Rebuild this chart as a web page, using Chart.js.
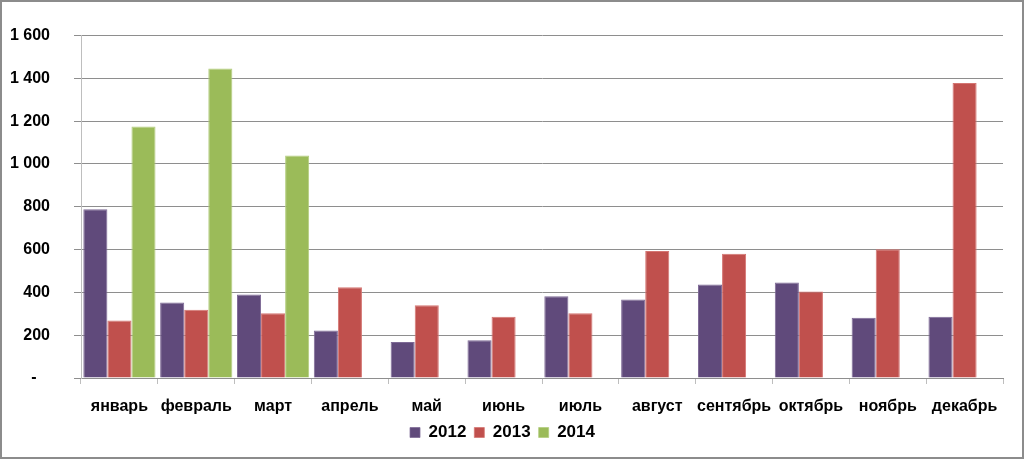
<!DOCTYPE html>
<html>
<head>
<meta charset="utf-8">
<script src="https://cdn.jsdelivr.net/npm/chart.js@4"></script>
<style>
    html, body { margin: 0; padding: 0; background: #fff; }
    #wrap {
        width: 1024px; height: 459px; box-sizing: border-box;
        border: 2px solid #8c8c8c; background: #fff;
    }
    canvas { display: block; }
</style>
</head>
<body>
<div id="wrap"><canvas id="chart" width="1020" height="455"></canvas></div>
<script>
    'use strict';

    // months on the x axis
    const months = ['январь', 'февраль', 'март', 'апрель', 'май', 'июнь',
        'июль', 'август', 'сентябрь', 'октябрь', 'ноябрь', 'декабрь'];

    // values per year (2014 only has first quarter)
    const values2012 = [788, 353, 390, 222, 168, 176, 382, 367, 437, 446, 281, 286];
    const values2013 = [269, 319, 302, 424, 340, 286, 302, 594, 581, 404, 602, 1379];
    const values2014 = [1175, 1446, 1040, null, null, null, null, null, null, null, null, null];

    const yTicks = [0, 200, 400, 600, 800, 1000, 1200, 1400, 1600];

    const FONT = "'Liberation Sans', Arial, sans-serif";

    // format like excel: "1 600", zero as dash
    const fmt = function (v) {
        if (v === 0) {
            return '-   ';
        }
        return String(v).replace(/\B(?=(\d{3})+(?!\d))/g, ' ');
    };

    const DATA = {
        labels: months,
        datasets: [
            {label: '2012', data: values2012, backgroundColor: '#604A7B', borderColor: '#7E6A96', borderWidth: {top: 1, left: 1, right: 1}},
            {label: '2013', data: values2013, backgroundColor: '#C0504D', borderColor: '#D47572', borderWidth: {top: 1, left: 1, right: 1}},
            {label: '2014', data: values2014, backgroundColor: '#9BBB59', borderColor: '#B3CD7E', borderWidth: {top: 1, left: 1, right: 1}}
        ]
    };

    const CONFIG = {
        type: 'bar',
        data: DATA,
        options: {
            responsive: false,
            animation: false,
            layout: {padding: {left: 0, right: 19, top: 27, bottom: 6}},
            categoryPercentage: 0.94,
            barPercentage: 1.0,
            plugins: {
                tooltip: {enabled: false},
                legend: {
                    position: 'bottom',
                    labels: {
                        color: '#000',
                        boxWidth: 10,
                        boxHeight: 10,
                        padding: 8,
                        font: {family: FONT, size: 17, weight: 'bold'}
                    }
                }
            },
            scales: {
                x: {
                    afterFit: function (scale) {
                        scale.height = 38;
                    },
                    grid: {
                        offset: true,
                        drawOnChartArea: false,
                        color: '#BEBEBE',
                        tickLength: 6,
                        lineWidth: 1
                    },
                    border: {color: '#8E8E8E', width: 1},
                    ticks: {
                        color: '#000',
                        padding: 13,
                        autoSkip: false,
                        maxRotation: 0,
                        font: {family: FONT, size: 16, weight: 'bold'}
                    }
                },
                y: {
                    min: 0,
                    max: 1600,
                    afterBuildTicks: function (scale) {
                        scale.ticks = yTicks.map(function (v) { return {value: v}; });
                    },
                    afterFit: function (scale) {
                        scale.width = 79;
                    },
                    grid: {
                        color: '#8E8E8E',
                        tickLength: 7,
                        lineWidth: 1
                    },
                    border: {color: '#BEBEBE', width: 1},
                    ticks: {
                        color: '#000',
                        padding: 24,
                        callback: fmt,
                        font: {family: FONT, size: 16, weight: 'bold'}
                    }
                }
            }
        }
    };

    const chart = new Chart(document.querySelector('#chart'), CONFIG);
</script>
</body>
</html>
